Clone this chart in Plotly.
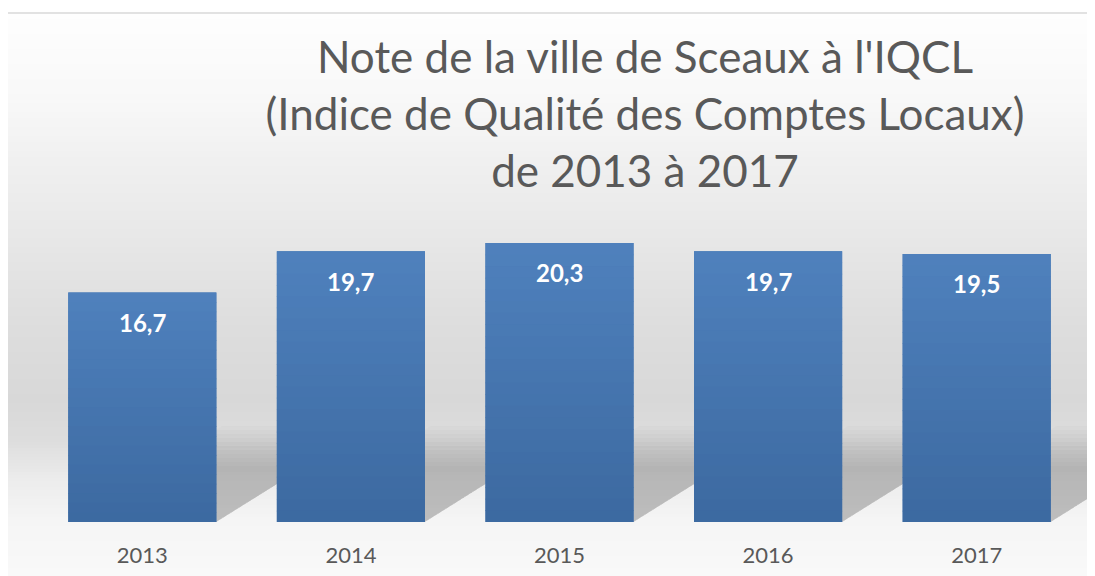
import plotly.graph_objects as go

# ---- data ----
years = ["2013", "2014", "2015", "2016", "2017"]
notes = [16.7, 19.7, 20.3, 19.7, 19.5]
labels = ["16,7", "19,7", "20,3", "19,7", "19,5"]
title_lines = ["Note de la ville de Sceaux à l'IQCL",
               "(Indice de Qualité des Comptes Locaux)",
               "de 2013 à 2017"]

# ---- layout geometry (page body adds an 8px offset) ----
OFF = 8
W, H = 1095 - OFF, 576 - OFF
ML, MR, MT, MB = 30, 14, 212, 54
PW, PH = W - ML - MR, H - MT - MB
PX_PER_UNIT = 13.75
YMAX = PH / PX_PER_UNIT
BARW = 0.71
FONT = "Lato"
n = len(years)
xs = list(range(n))


def pxx(px):  # px given in reference (screen) coordinates
    return (px - OFF - ML) / PW


def pxy(py):
    return (H - MB - (py - OFF)) / PH


def data_x_px(x):  # returns screen px
    return OFF + ML + (x + 0.5) / n * PW


def lerp(a, b, t):
    return a + (b - a) * t


def interp(stops, v):
    for (y0, c0), (y1, c1) in zip(stops, stops[1:]):
        if y0 <= v <= y1:
            t = (v - y0) / (y1 - y0)
            return tuple(lerp(a, b, t) for a, b in zip(c0, c1))
    return stops[-1][1]


shapes = []

# background gradient (chart area)
bg_stops = [(13, (254, 254, 254)), (100, (248, 248, 248)), (170, (239, 239, 239)),
            (250, (230, 230, 230)), (330, (221, 221, 221)), (400, (216, 216, 216)),
            (440, (221, 221, 221)), (480, (236, 236, 236)), (520, (245, 245, 245)),
            (576, (249, 249, 249))]
step = 3
y = 13
while y < 576:
    c = interp(bg_stops, y + step / 2)
    shapes.append(dict(type="rect", xref="paper", yref="paper", layer="below",
                       x0=pxx(4), x1=pxx(1100), y0=pxy(min(y + step + 0.6, 580)), y1=pxy(y),
                       fillcolor="rgb(%d,%d,%d)" % tuple(int(round(v)) for v in c),
                       line=dict(width=0)))
    y += step

# perspective shadows behind bars (derived from bar positions)
bottom = 522
for i in xs:
    left = data_x_px(i - BARW / 2)
    right = data_x_px(i + BARW / 2)
    for h in range(56, 100, 4):
        op = 0.022 if h < 84 else 0.014
        dx = h * 1.6
        path = "M %f,%f L %f,%f L %f,%f L %f,%f Z" % (
            pxx(left), pxy(bottom), pxx(right), pxy(bottom),
            pxx(right + dx), pxy(bottom - h), pxx(left + dx), pxy(bottom - h))
        shapes.append(dict(type="path", xref="paper", yref="paper", layer="below",
                           path=path, fillcolor="rgba(0,0,0,%g)" % op,
                           line=dict(width=0)))

# bar vertical gradient overlays (derived from bar values)
top_c, bot_c = (79, 129, 189), (60, 105, 160)
NB = 24
for i, v in zip(xs, notes):
    for k in range(NB):
        t = (k + 0.5) / NB
        c = tuple(int(round(lerp(a, b, t))) for a, b in zip(top_c, bot_c))
        y1 = v * (1 - k / NB)
        y0 = max(0, v * (1 - (k + 1) / NB) - 0.05)
        shapes.append(dict(type="rect", xref="x", yref="y", layer="above",
                           x0=i - BARW / 2, x1=i + BARW / 2, y0=y0, y1=y1,
                           fillcolor="rgb(%d,%d,%d)" % c, line=dict(width=0)))

# chart border
shapes.append(dict(type="line", xref="paper", yref="paper", layer="above",
                   x0=pxx(4), x1=pxx(1100), y0=pxy(13), y1=pxy(13),
                   line=dict(color="#d9d9d9", width=1.5)))
shapes.append(dict(type="line", xref="paper", yref="paper", layer="above",
                   x0=pxx(4), x1=pxx(4), y0=pxy(13), y1=pxy(580),
                   line=dict(color="#d9d9d9", width=1.5)))

fig = go.Figure(go.Bar(x=xs, y=notes, width=BARW,
                       marker=dict(color="#4676af", line=dict(width=0)),
                       hoverinfo="skip"))

annotations = [dict(x=i, y=v, xref="x", yref="y", text="<b>%s</b>" % lab,
                    showarrow=False, yanchor="middle", yshift=-30,
                    font=dict(family=FONT, size=24, color="white"))
               for i, v, lab in zip(xs, notes, labels)]

fig.update_layout(
    width=W, height=H,
    margin=dict(l=ML, r=MR, t=MT, b=MB, autoexpand=False),
    paper_bgcolor="white", plot_bgcolor="rgba(0,0,0,0)",
    title=dict(text="<br>".join(title_lines), xref="container", yref="container",
               x=(645 - OFF) / W, xanchor="center", y=1 - 65 / H, yanchor="top",
               font=dict(family=FONT, size=44, color="#595959")),
    xaxis=dict(range=[-0.5, n - 0.5], tickvals=xs, ticktext=years,
               showgrid=False, zeroline=False, showline=False,
               ticks="outside", ticklen=14, tickcolor="rgba(0,0,0,0)",
               tickfont=dict(family=FONT, size=22, color="#595959")),
    yaxis=dict(range=[0, YMAX], visible=False),
    shapes=shapes, annotations=annotations, showlegend=False,
)

fig.write_html("out.html")
